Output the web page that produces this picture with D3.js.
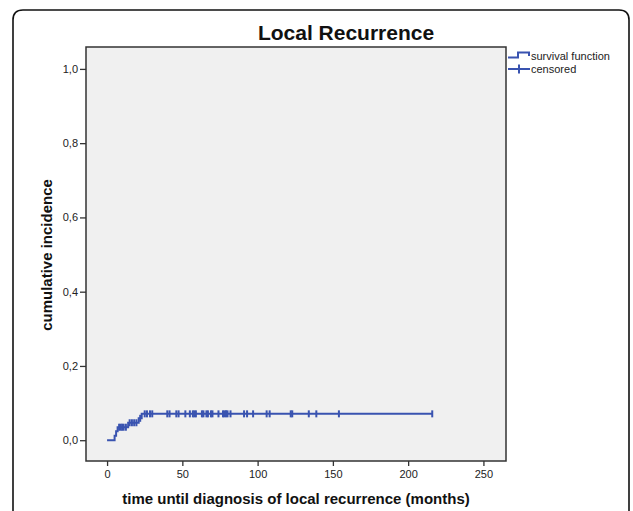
<!DOCTYPE html>
<html lang="en">
  <head>
    <meta charset="UTF-8">
    <script type="text/javascript" src="https://cdn.jsdelivr.net/npm/d3@7"></script>
    <title>Local Recurrence</title>
    <style>
      body { margin: 0; background: #fff; }
      text { font-family: Arial, 'Liberation Sans', sans-serif; }
    </style>
  </head>
  <body>
    <script type="text/javascript">
      let w = 633;
      let h = 511;

      // step function: event times (months) and cumulative incidence after each event
      let eventTimes = [0, 5, 6, 7, 14, 21, 23];
      let incidence = [0, 0.012, 0.024, 0.035, 0.047, 0.059, 0.071];

      // censored observations (months)
      let censorTimes = [8, 9, 10, 11, 12.5, 15, 16.5, 18, 19.5, 22,
                         25, 26.5, 28.5, 30, 40, 41.5, 46, 47.5, 52, 55,
                         57, 58, 59, 63, 64, 66, 67, 69, 70, 74,
                         77, 78, 79, 80, 82, 91, 93, 97, 106, 108,
                         122, 123, 134, 139, 154, 216];

      let xTicks = [0, 50, 100, 150, 200, 250];
      let yTicks = [0, 0.2, 0.4, 0.6, 0.8, 1.0];
      let legendLabels = ['survival function', 'censored'];

      let blue = '#3953b0';

      let plot = {left: 86, right: 506, top: 47, bottom: 461};

      let xScale = d3.scaleLinear()
                      .domain([-14, 265])
                      .range([plot.left, plot.right]);
      let yScale = d3.scaleLinear()
                      .domain([-0.056, 1.059])
                      .range([plot.bottom, plot.top]);

      // value of the step function at time t
      let levelAt = t => incidence[d3.bisectRight(eventTimes, t) - 1];

      let svg = d3.select('body')
                  .append('svg')
                  .attr('width', w)
                  .attr('height', h);

      // outer frame, rounded at the top, open at the bottom
      let r = 10;
      svg.append('path')
          .attr('d', `M13,${h + 5} V${10 + r} Q13,10 ${13 + r},10 H${629 - r} Q629,10 629,${10 + r} V${h + 5}`)
          .attr('fill', 'none')
          .attr('stroke', '#111')
          .attr('stroke-width', 1.6);

      // plot area
      svg.append('rect')
          .attr('x', plot.left)
          .attr('y', plot.top)
          .attr('width', plot.right - plot.left)
          .attr('height', plot.bottom - plot.top)
          .attr('fill', '#f0f0f0')
          .attr('stroke', '#333')
          .attr('stroke-width', 1.5);

      let comma = d3.formatLocale({decimal: ',', thousands: '.', grouping: [3], currency: ['', '']}).format('.1f');

      let yAxis = svg.append('g')
          .attr('transform', `translate(${plot.left},0)`)
          .call(d3.axisLeft(yScale).tickValues(yTicks).tickFormat(comma).tickSize(6).tickPadding(2));
      yAxis.select('.domain').remove();

      let xAxis = svg.append('g')
          .attr('transform', `translate(0,${plot.bottom})`)
          .call(d3.axisBottom(xScale).tickValues(xTicks).tickSize(5).tickPadding(4));
      xAxis.select('.domain').remove();

      svg.selectAll('.tick line').attr('stroke', '#333').attr('stroke-width', 1.3);
      svg.selectAll('.tick text')
          .attr('font-family', 'Arial, Liberation Sans, sans-serif')
          .attr('font-size', '11px')
          .attr('fill', '#222');

      // step line
      let stepPoints = eventTimes.map((t, i) => [t, incidence[i]]);
      stepPoints.push([d3.max(censorTimes), incidence[incidence.length - 1]]);

      let line = d3.line()
                   .x(d => xScale(d[0]))
                   .y(d => yScale(d[1]))
                   .curve(d3.curveStepAfter);

      svg.append('path')
          .datum(stepPoints)
          .attr('d', line)
          .attr('fill', 'none')
          .attr('stroke', blue)
          .attr('stroke-width', 2);

      // censored marks
      svg.selectAll('line.censor')
          .data(censorTimes)
          .enter()
          .append('line')
          .attr('class', 'censor')
          .attr('x1', d => xScale(d))
          .attr('x2', d => xScale(d))
          .attr('y1', d => yScale(levelAt(d)) - 3.5)
          .attr('y2', d => yScale(levelAt(d)) + 3.5)
          .attr('stroke', blue)
          .attr('stroke-width', 2);

      // title and axis labels
      svg.append('text')
          .text('Local Recurrence')
          .attr('x', 346)
          .attr('y', 40)
          .attr('text-anchor', 'middle')
          .attr('font-size', '21px')
          .attr('font-weight', 'bold')
          .attr('fill', '#111');

      svg.append('text')
          .text('time until diagnosis of local recurrence (months)')
          .attr('x', (plot.left + plot.right) / 2)
          .attr('y', 504)
          .attr('text-anchor', 'middle')
          .attr('font-size', '15px')
          .attr('font-weight', 'bold')
          .attr('fill', '#111');

      svg.append('text')
          .text('cumulative incidence')
          .attr('transform', 'translate(52,255) rotate(-90)')
          .attr('text-anchor', 'middle')
          .attr('font-size', '15px')
          .attr('font-weight', 'bold')
          .attr('fill', '#111');

      // legend
      let legend = svg.append('g').attr('transform', 'translate(508,0)');

      legend.append('path')
          .attr('d', 'M0,57.5 H10 V52.5 H21 V56')
          .attr('fill', 'none')
          .attr('stroke', blue)
          .attr('stroke-width', 2);

      legend.append('line')
          .attr('x1', 0).attr('x2', 22)
          .attr('y1', 69).attr('y2', 69)
          .attr('stroke', blue)
          .attr('stroke-width', 2);
      legend.append('line')
          .attr('x1', 11).attr('x2', 11)
          .attr('y1', 64.5).attr('y2', 73.5)
          .attr('stroke', blue)
          .attr('stroke-width', 2);

      legend.selectAll('text')
          .data(legendLabels)
          .enter()
          .append('text')
          .text(d => d)
          .attr('x', 23)
          .attr('y', (d, i) => 60 + i * 13)
          .attr('font-size', '11px')
          .attr('fill', '#222');
    </script>
  </body>
</html>
